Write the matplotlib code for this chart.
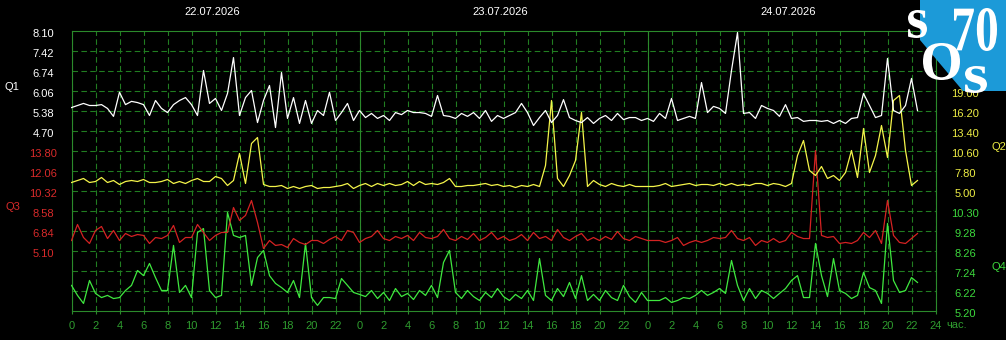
import numpy as np
import matplotlib
matplotlib.use("Agg")
import matplotlib.pyplot as plt
from matplotlib.font_manager import FontProperties
from matplotlib.patches import Polygon, PathPatch
from matplotlib.textpath import TextPath
from matplotlib.transforms import Affine2D, blended_transform_factory, ScaledTranslation

# ---- data (30 min steps starting 22.07 00:00) ----
dates = ["22.07.2026", "23.07.2026", "24.07.2026"]

q1 = [5.48, 5.55, 5.62, 5.55, 5.55, 5.58, 5.45, 5.18, 6.00, 5.58,
      5.69, 5.65, 5.58, 5.21, 5.72, 5.45, 5.31, 5.58, 5.72, 5.82,
      5.58, 5.21, 6.74, 5.62, 5.79, 5.38, 5.96, 7.18, 5.21, 5.82,
      6.06, 4.97, 5.72, 6.23, 4.80, 6.67, 5.11, 5.82, 4.94, 5.72,
      4.94, 5.38, 5.21, 6.00, 5.04, 5.31, 5.62, 5.04, 5.38,
      5.14, 5.28, 5.11, 5.21, 5.04, 5.31, 5.24, 5.38, 5.31, 5.31,
      5.28, 5.18, 5.89, 5.21, 5.18, 5.11, 5.28, 5.18, 5.31, 5.11,
      5.38, 5.01, 5.21, 5.11, 5.21, 5.31, 5.62, 5.31, 4.87, 5.14,
      5.38, 4.97, 5.21, 5.75, 5.14, 5.04, 4.97, 5.14, 4.94, 5.11,
      5.21, 5.04, 5.28, 5.07, 5.14, 5.14, 5.04, 5.11,
      5.01, 5.28, 5.11, 5.79, 5.04, 5.11, 5.18, 5.11, 6.33, 5.31,
      5.52, 5.45, 5.28, 6.74, 8.03, 5.28, 5.31, 5.11, 5.55, 5.45,
      5.38, 5.18, 5.58, 5.11, 5.14, 5.01, 5.04, 5.04, 5.01, 5.04,
      4.94, 5.04, 4.94, 5.11, 5.14, 5.96, 5.55, 5.14, 5.21, 7.15,
      5.38, 5.28, 5.55, 6.47, 5.38]

q2 = [6.12, 6.40, 6.68, 6.12, 6.26, 6.82, 6.12, 6.40, 5.84, 6.26,
      6.40, 6.26, 6.54, 6.12, 6.12, 6.26, 6.54, 5.98, 6.26, 5.98,
      6.40, 6.68, 6.26, 6.26, 6.96, 6.68, 5.70, 6.40, 10.18, 5.98,
      11.58, 12.42, 5.84, 5.56, 5.56, 5.70, 5.28, 5.56, 5.28, 5.56,
      5.70, 5.28, 5.42, 5.42, 5.56, 5.70, 5.98, 5.28, 5.70,
      5.98, 5.56, 5.98, 5.70, 5.98, 5.70, 5.84, 6.26, 5.70, 6.26,
      5.84, 5.98, 5.84, 6.12, 6.68, 5.56, 5.56, 5.70, 5.70, 5.84,
      5.98, 5.70, 5.84, 5.56, 5.70, 5.42, 5.70, 5.56, 5.84, 5.56,
      8.50, 17.60, 6.68, 5.56, 7.10, 9.20, 15.92, 5.56, 6.40, 5.84,
      5.56, 5.98, 5.70, 5.56, 5.84, 5.56, 5.56, 5.56,
      5.56, 5.70, 5.98, 5.56, 5.70, 5.84, 5.98, 5.70, 5.84, 5.84,
      5.70, 5.98, 5.70, 5.98, 5.70, 5.84, 5.70, 5.98, 5.98, 5.70,
      5.98, 5.84, 5.56, 5.98, 9.90, 12.00, 7.80, 7.10, 8.36, 6.68,
      7.10, 6.40, 7.52, 10.60, 6.82, 13.68, 7.52, 9.90, 14.10, 9.62,
      17.60, 18.30, 10.60, 5.70, 6.40]

q3 = [5.97, 7.36, 6.23, 5.71, 6.84, 7.19, 6.14, 6.84, 5.97, 6.58,
      6.32, 6.49, 6.41, 5.71, 6.23, 6.14, 6.41, 7.28, 5.80, 6.23,
      6.23, 7.36, 6.67, 5.97, 6.41, 6.67, 6.67, 8.84, 7.71, 8.15,
      9.45, 7.54, 5.27, 5.97, 5.54, 5.62, 5.36, 6.14, 5.80, 5.62,
      5.97, 5.97, 5.71, 6.06, 6.32, 5.97, 6.84, 6.67, 5.80,
      6.14, 6.32, 6.84, 6.14, 5.97, 6.32, 6.14, 6.41, 5.97, 6.67,
      6.23, 6.14, 6.32, 6.93, 6.14, 5.97, 6.32, 6.06, 6.58, 5.97,
      6.23, 6.67, 6.06, 6.32, 5.97, 6.14, 6.49, 5.97, 6.67, 6.14,
      6.32, 5.97, 6.93, 6.23, 5.97, 6.32, 6.58, 5.97, 6.23, 5.97,
      6.32, 6.06, 6.75, 6.14, 5.97, 6.32, 6.14, 5.97,
      5.97, 5.97, 5.80, 5.97, 6.23, 5.54, 5.80, 5.97, 5.80, 5.97,
      6.23, 6.14, 6.23, 6.84, 6.14, 5.97, 6.23, 5.54, 5.97, 5.80,
      6.14, 5.80, 5.97, 6.67, 6.32, 6.14, 6.14, 13.80, 6.41, 6.23,
      6.32, 5.71, 5.80, 5.71, 5.97, 6.67, 6.23, 6.84, 5.71, 9.45,
      6.41, 5.80, 5.71, 6.14, 6.58]

q4 = [6.48, 5.97, 5.56, 6.73, 6.07, 5.86, 5.97, 5.81, 5.86, 6.22,
      6.48, 7.24, 6.98, 7.60, 6.88, 6.22, 6.22, 8.52, 6.12, 6.48,
      5.86, 9.18, 9.38, 6.22, 5.86, 5.97, 10.20, 9.03, 8.92, 9.03,
      6.48, 7.90, 8.26, 6.98, 6.58, 6.37, 6.12, 6.73, 5.86, 8.62,
      5.86, 5.46, 5.86, 5.86, 5.81, 6.83, 6.48, 6.12, 6.02,
      5.91, 6.22, 5.81, 6.12, 5.71, 6.32, 5.91, 6.07, 5.76, 6.22,
      5.97, 6.48, 5.86, 7.65, 8.26, 6.12, 5.81, 6.22, 5.91, 5.71,
      6.12, 5.86, 6.32, 5.91, 5.71, 6.02, 5.81, 6.22, 5.71, 7.85,
      5.97, 5.71, 6.32, 5.91, 6.63, 5.81, 6.98, 5.71, 6.02, 5.71,
      6.22, 5.86, 5.71, 6.48, 5.91, 5.61, 6.12, 5.71,
      5.71, 5.71, 5.86, 5.61, 5.71, 5.86, 5.81, 5.97, 6.22, 5.97,
      6.12, 6.32, 6.07, 7.75, 6.48, 5.71, 6.32, 5.81, 6.22, 6.07,
      5.81, 6.07, 6.32, 6.73, 6.98, 5.86, 5.86, 8.62, 6.98, 5.91,
      7.85, 6.22, 6.07, 5.81, 5.97, 7.14, 6.37, 6.22, 5.56, 9.64,
      6.73, 6.12, 6.22, 6.88, 6.63]

q1_ticks = [8.10, 7.42, 6.74, 6.06, 5.38, 4.70]
q2_ticks = [19.00, 16.20, 13.40, 10.60, 7.80, 5.00]
q3_ticks = [13.80, 12.06, 10.32, 8.58, 6.84, 5.10]
q4_ticks = [10.30, 9.28, 8.26, 7.24, 6.22, 5.20]

hours = np.arange(0, 73, 2)
hour_labels = [str(h % 24) if h < 72 else "24" for h in hours]

# ---- look ----
W, H = 1006, 340
ROWS = 14
FRAME = "#2b8a2b"
GRID = "#217d21"
XLAB = "#2f9c2f"

plt.rcParams["font.family"] = ["Liberation Sans", "DejaVu Sans"]

fig = plt.figure(figsize=(W / 100, H / 100), dpi=100, facecolor="black")
ax = fig.add_axes([71.5 / W, (H - 310.5) / H, 864 / W, 280 / H])
ax.set_facecolor("black")
ax.set_xlim(0, 72)
ax.set_ylim(ROWS, 0)

for s in ax.spines.values():
    s.set_color(FRAME)
    s.set_linewidth(0.8)

ax.set_yticks(range(1, ROWS))
ax.tick_params(axis="y", length=0, labelleft=False)
ax.set_xticks(hours, hour_labels)
ax.tick_params(axis="x", direction="out", length=2.5, width=0.8, color=FRAME,
               labelcolor=XLAB, labelsize=8, pad=5)
ax.grid(True, color=GRID, linewidth=0.8, linestyle=(0, (5, 3)))
for d in (24, 48):
    ax.axvline(d, color=FRAME, linewidth=0.8)

t = np.arange(len(q1)) * 0.5
offset = ScaledTranslation(0, -3.5 / 100, fig.dpi_scale_trans)


def add_series(values, ticks, row, color, label_color, label_x):
    step = ticks[0] - ticks[1]
    a = ax.twinx()
    a.set_ylim(ticks[0] - (ROWS - row) * step, ticks[0] + row * step)
    a.set_axis_off()
    a.plot(t, values, color=color, linewidth=0.9)
    tr = blended_transform_factory(fig.transFigure, a.transData) + offset
    for v in ticks:
        a.text(label_x / W, v, f"{v:.2f}", transform=tr, ha="center", va="center",
               color=label_color, fontsize=8, clip_on=False)
    return a


add_series(q4, q4_ticks, 9, "#3fe83f", "#3cd83c", 965)
add_series(q3, q3_ticks, 6, "#d42222", "#d82a2a", 43.5)
add_series(q2, q2_ticks, 3, "#f4f44a", "#eeee44", 965)
add_series(q1, q1_ticks, 0, "#ffffff", "#ffffff", 43.5)

# series names
fig.text(11.5 / W, 1 - 87 / H, "Q1", color="#ffffff", fontsize=8, ha="center", va="center")
fig.text(12.5 / W, 1 - 207 / H, "Q3", color="#d82a2a", fontsize=8, ha="center", va="center")
fig.text(998.5 / W, 1 - 147 / H, "Q2", color="#eeee44", fontsize=8, ha="center", va="center")
fig.text(998.5 / W, 1 - 267 / H, "Q4", color="#3cd83c", fontsize=8, ha="center", va="center")

# dates above each day
dtr = blended_transform_factory(ax.transData, fig.transFigure)
for i, d in enumerate(dates):
    ax.text(24 * i + 11.7, 1 - 12 / H, d, transform=dtr, ha="center", va="center",
            color="white", fontsize=8, clip_on=False)

fig.text(946 / W, 1 - 325 / H, "час.", color=XLAB, fontsize=8, ha="left", va="center")

# logo in the top right corner
logo = Polygon([(920 / W, 1), (1, 1), (1, 1 - 91 / H), (963 / W, 1 - 91 / H), (920 / W, 1 - 40 / H)],
               closed=True, transform=fig.transFigure, facecolor="#1c9ad8", edgecolor="none")
fig.patches.append(logo)

serif = FontProperties(family="Liberation Serif", weight="bold")


def glyph(s, x0, y0, x1, y1):
    tp = TextPath((0, 0), s, size=100, prop=serif)
    ext = tp.get_extents()
    tr = (Affine2D().translate(-ext.x0, -ext.y0)
          .scale((x1 - x0) / ext.width, (y1 - y0) / ext.height)
          .translate(x0, H - y1).scale(1 / W, 1 / H))
    fig.patches.append(PathPatch(tr.transform_path(tp), transform=fig.transFigure,
                                 facecolor="white", edgecolor="none"))


glyph("s", 908, 10, 927, 38)
glyph("70", 954, 8, 997, 51)
glyph("O", 923, 43, 960, 80)
glyph("s", 965, 66, 987, 93)

fig.savefig("out.png", dpi=100, facecolor="black")
